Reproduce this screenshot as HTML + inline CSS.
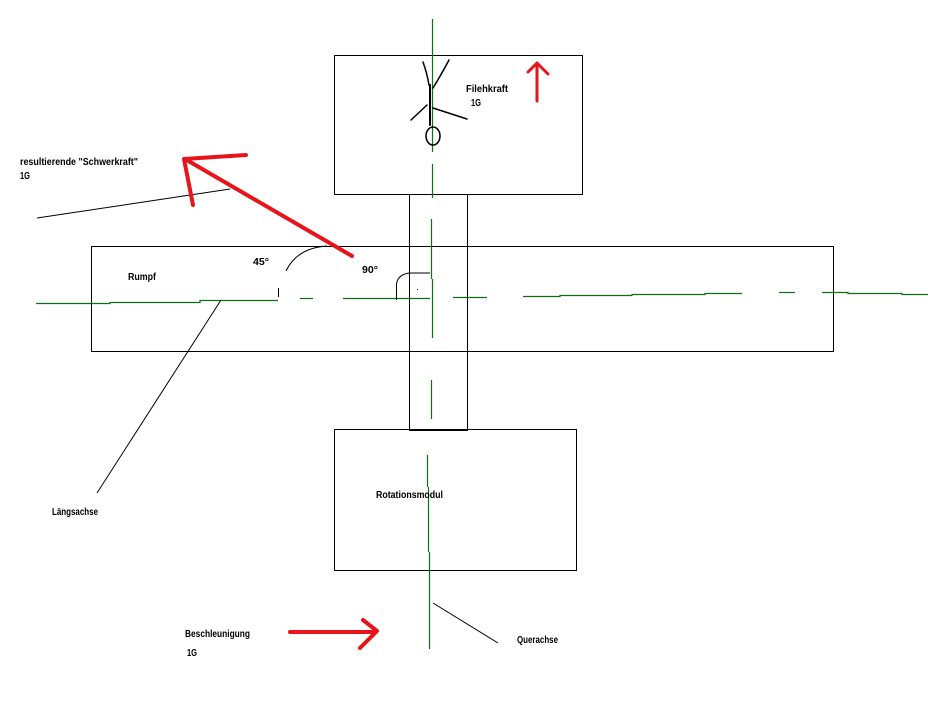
<!DOCTYPE html>
<html>
<head>
<meta charset="utf-8">
<style>
html,body{margin:0;padding:0;background:#fff;}
svg{display:block;}
text{font-family:"Liberation Sans",sans-serif;font-weight:bold;font-size:10px;fill:#000;}
</style>
</head>
<body>
<svg width="952" height="722" viewBox="0 0 952 722" xmlns="http://www.w3.org/2000/svg">
<rect x="0" y="0" width="952" height="722" fill="#fff"/>

<!-- boxes -->
<g fill="none" stroke="#000" stroke-width="1">
  <rect x="334.5" y="55.5" width="248" height="139"/>
  <line x1="409.5" y1="194" x2="409.5" y2="430"/>
  <line x1="467.5" y1="194" x2="467.5" y2="430"/>
  <rect x="91.5" y="246.5" width="742" height="105"/>
  <rect x="334.5" y="429.5" width="242" height="141"/>
</g>
<line x1="409" y1="430" x2="468" y2="430" stroke="#000" stroke-width="2"/>

<!-- green axes -->
<g stroke="#0f6e12" stroke-width="1.2" fill="none">
  <!-- vertical top -->
  <line x1="432.5" y1="19" x2="432.5" y2="152"/>
  <line x1="432.5" y1="164" x2="432.5" y2="198"/>
  <line x1="431.5" y1="219" x2="431.5" y2="279"/>
  <line x1="432.5" y1="279" x2="432.5" y2="338"/>
  <line x1="431.5" y1="380" x2="431.5" y2="419"/>
  <!-- vertical bottom -->
  <line x1="427.5" y1="455" x2="427.5" y2="487"/>
  <line x1="428.5" y1="487" x2="428.5" y2="552"/>
  <line x1="429.5" y1="552" x2="429.5" y2="649"/>
  <!-- horizontal -->
  <polyline points="36,303.5 110,303.5 110,302.5 200,302.5 200,300.5 278,300.5"/>
  <line x1="300" y1="298.5" x2="313" y2="298.5"/>
  <line x1="343" y1="298.5" x2="430" y2="298.5"/>
  <line x1="453" y1="297.5" x2="487" y2="297.5"/>
  <polyline points="523,296.5 560,296.5 560,295.5 632,295.5 632,294.5 705,294.5 705,293.5 742,293.5"/>
  <line x1="779" y1="292.5" x2="795" y2="292.5"/>
  <polyline points="822,292.5 848,292.5 848,293.5 902,293.5 902,294.5 928,294.5"/>
</g>

<!-- stick figure -->
<g stroke="#000" fill="none" stroke-linecap="round">
  <path d="M423,62 Q427,73 429,85" stroke-width="1.5"/>
  <path d="M449,60 Q441,75 433,88" stroke-width="1.5"/>
  <line x1="430" y1="85" x2="430" y2="125" stroke-width="2"/>
  <line x1="427" y1="105" x2="411" y2="120" stroke-width="1.5"/>
  <line x1="433" y1="108" x2="467" y2="119" stroke-width="1.5"/>
  <ellipse cx="433" cy="136" rx="7" ry="9" stroke-width="1.5"/>
</g>

<!-- black misc lines -->
<g stroke="#000" stroke-width="1" fill="none">
  <line x1="37" y1="218" x2="230" y2="189"/>
  <line x1="221" y1="300" x2="97" y2="493"/>
  <line x1="433" y1="603" x2="498" y2="643"/>
  <line x1="278.5" y1="288" x2="278.5" y2="297"/>
  <path d="M286,271 Q297,248 327,246"/>
  <path d="M396.5,300 L396.5,284 Q398,274 410,273 L430,273"/>
</g>
<rect x="417" y="289" width="1" height="1" fill="#000"/>

<!-- red arrows -->
<g stroke="#e8141c" fill="none" stroke-linecap="round" stroke-linejoin="round">
  <line x1="537" y1="101" x2="537" y2="64" stroke-width="3"/>
  <polyline points="528,72 537,63 548,74" stroke-width="3"/>
  <line x1="352" y1="256" x2="185" y2="159" stroke-width="4"/>
  <polyline points="246,155 184,159 193,205" stroke-width="4"/>
  <line x1="290" y1="632" x2="376" y2="632" stroke-width="4"/>
  <polyline points="363,620 377,631 360,648" stroke-width="4"/>
</g>

<!-- labels -->
<text x="466" y="92" textLength="42" lengthAdjust="spacingAndGlyphs">Filehkraft</text>
<text x="471" y="106" textLength="10" lengthAdjust="spacingAndGlyphs">1G</text>
<text x="20" y="165" textLength="118" lengthAdjust="spacingAndGlyphs">resultierende "Schwerkraft"</text>
<text x="20" y="179" textLength="10" lengthAdjust="spacingAndGlyphs">1G</text>
<text x="128" y="280" textLength="28" lengthAdjust="spacingAndGlyphs">Rumpf</text>
<text x="253" y="265" textLength="16" lengthAdjust="spacingAndGlyphs">45°</text>
<text x="362" y="273" textLength="16" lengthAdjust="spacingAndGlyphs">90°</text>
<text x="52" y="515" textLength="46" lengthAdjust="spacingAndGlyphs">Längsachse</text>
<text x="376" y="498" textLength="67" lengthAdjust="spacingAndGlyphs">Rotationsmodul</text>
<text x="185" y="637" textLength="65" lengthAdjust="spacingAndGlyphs">Beschleunigung</text>
<text x="187" y="656" textLength="10" lengthAdjust="spacingAndGlyphs">1G</text>
<text x="517" y="643" textLength="41" lengthAdjust="spacingAndGlyphs">Querachse</text>
</svg>
</body>
</html>
